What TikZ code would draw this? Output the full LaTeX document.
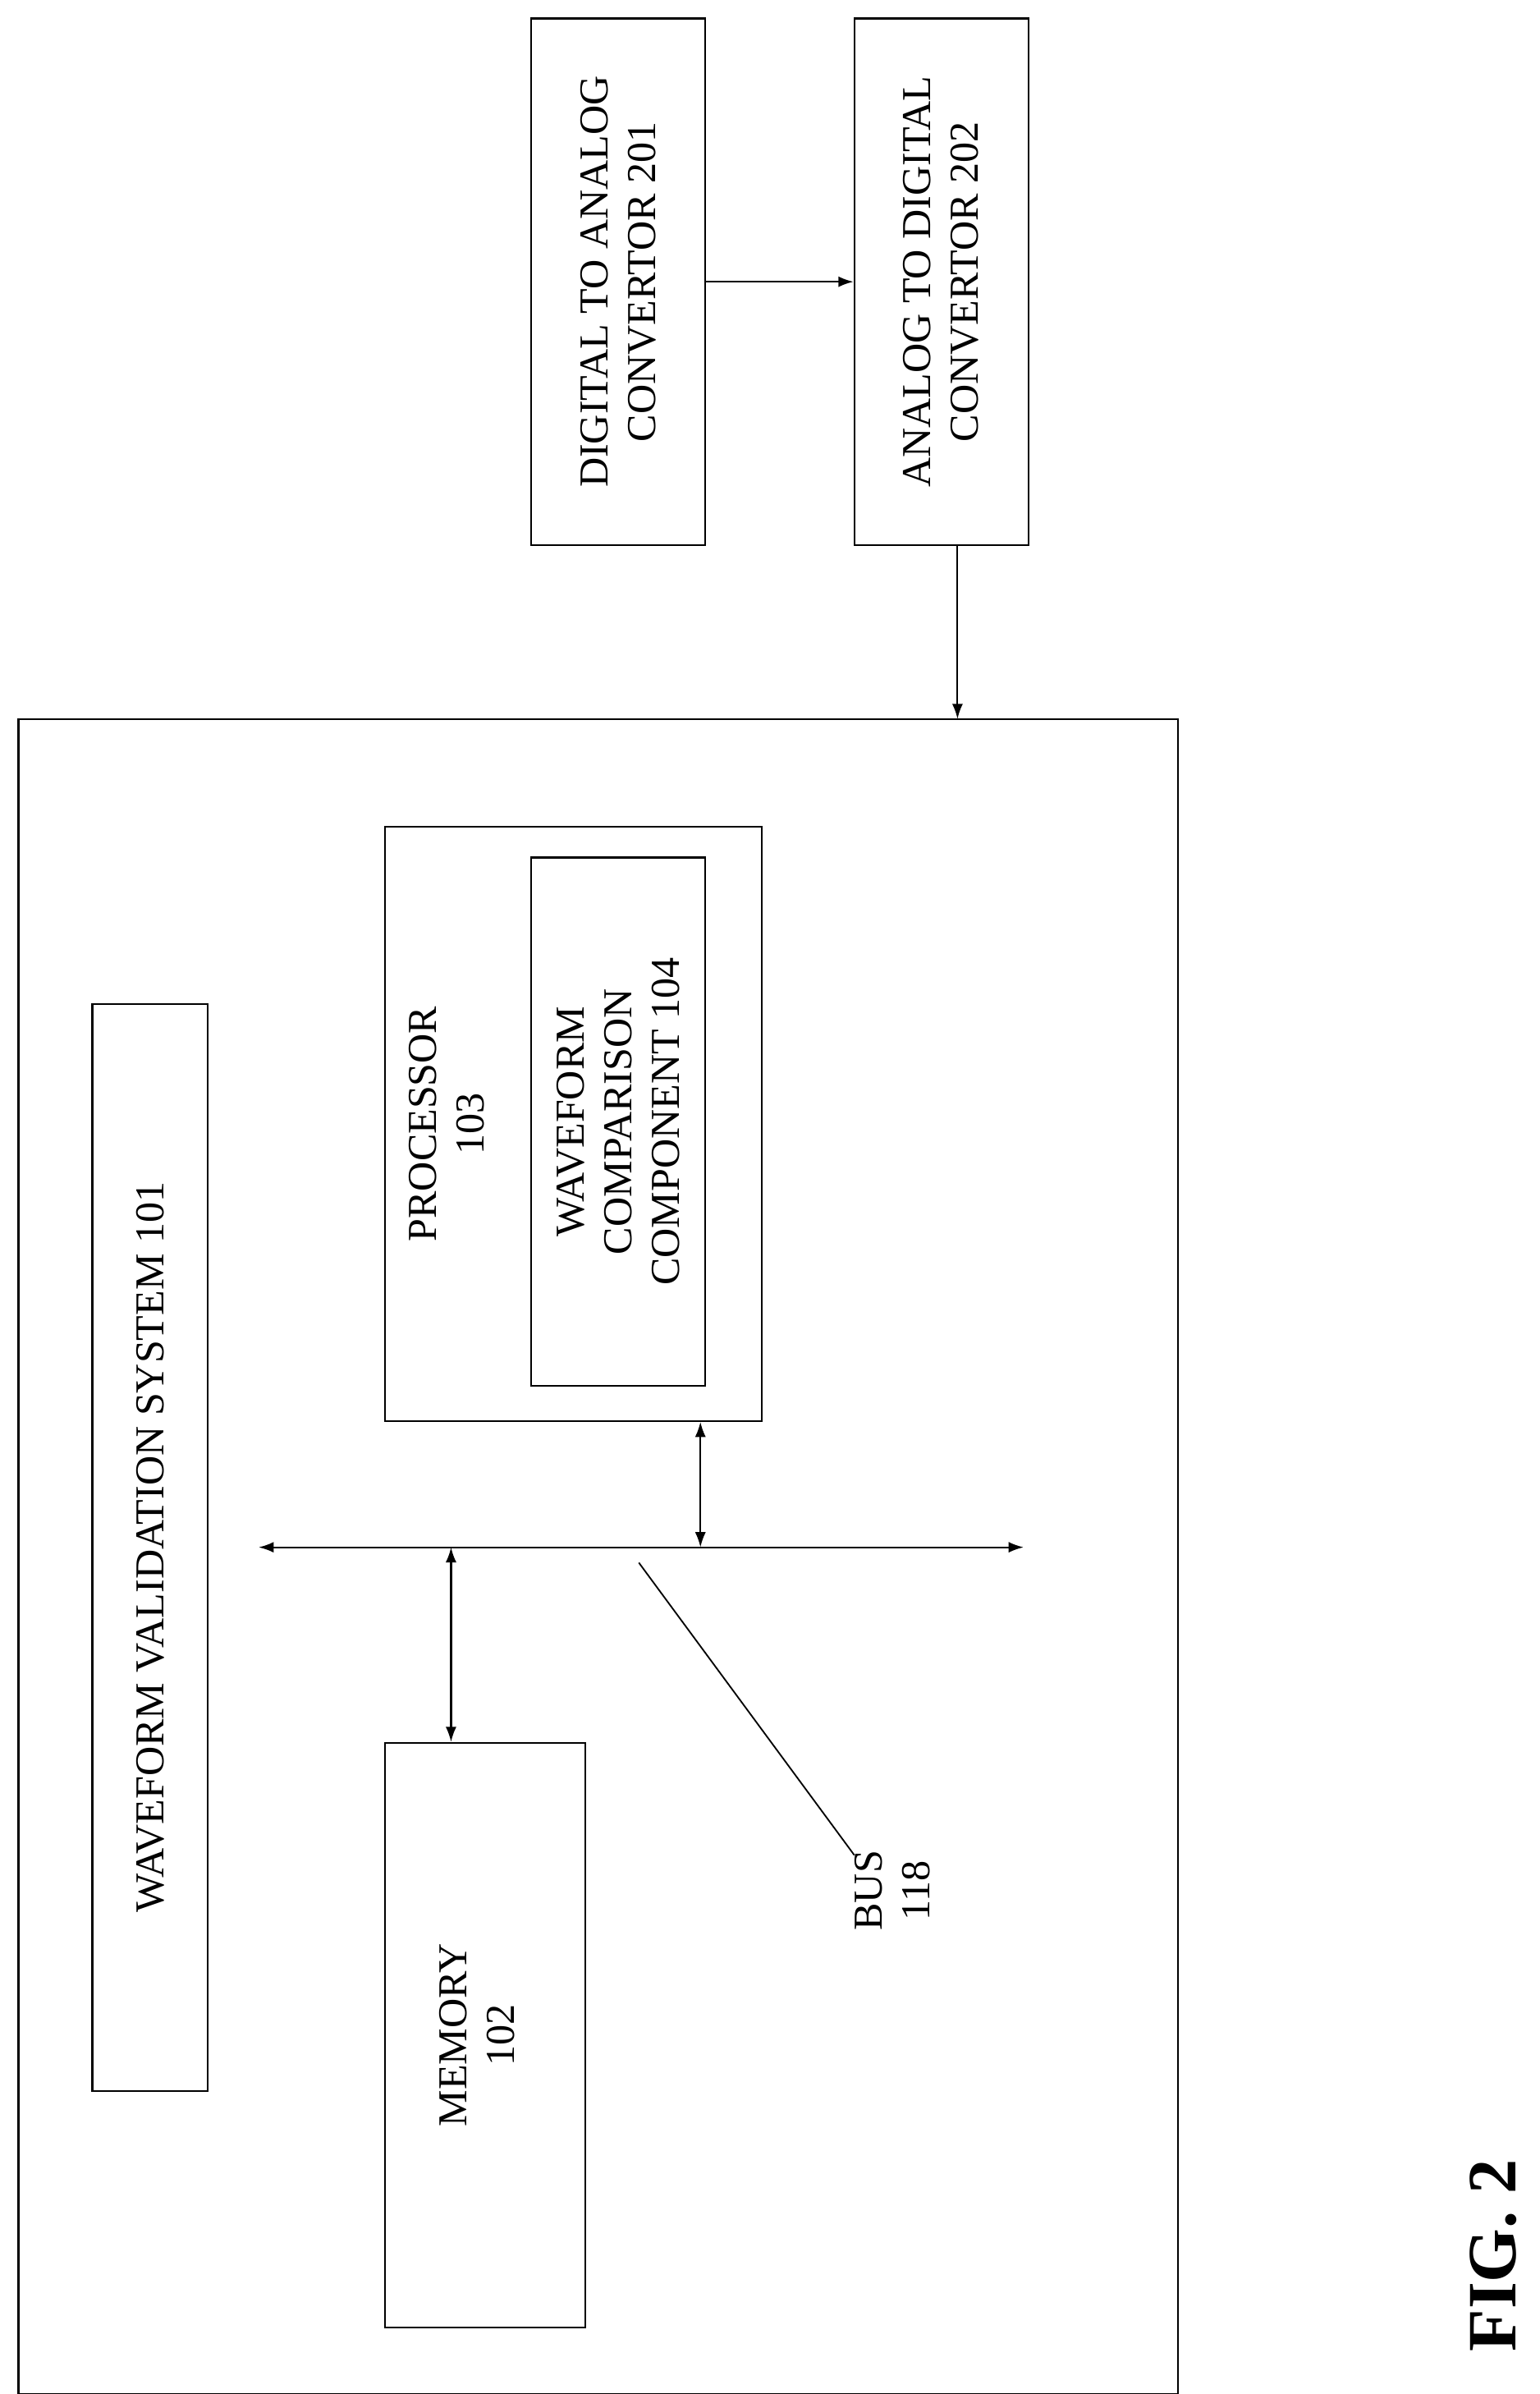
\documentclass[tikz,border=0pt]{standalone}
\usepackage{fontspec}
\setmainfont{Liberation Serif}
\usetikzlibrary{arrows.meta}
\begin{document}
\begin{tikzpicture}[x=0.05cm,y=-0.05cm,
 box/.style={draw,line width=1.6pt},
 lbl/.style={rotate=90,align=center,font=\fontsize{38}{44}\selectfont},
 arr/.style={line width=1.6pt,-{Latex[length=14pt,width=10pt]}},
 darr/.style={line width=1.6pt,{Latex[length=14pt,width=10pt]}-{Latex[length=14pt,width=10pt]}}]
\useasboundingbox (0,0) rectangle (1000,1555);
\node[box,minimum width=113*0.05cm,minimum height=342*0.05cm] (dac) at (401.5,183) {};
\node[lbl] at (dac) {DIGITAL TO ANALOG\\CONVERTOR 201};
\node[box,minimum width=113*0.05cm,minimum height=342*0.05cm] (adc) at (611.5,183) {};
\node[lbl] at (adc) {ANALOG TO DIGITAL\\CONVERTOR 202};
\draw[box] (12,467) rectangle (765,1555);
\coordinate (bigtop) at (622,467);
\draw[arr] (dac.east) -- (adc.west);
\draw[arr] (adc.south -| bigtop) -- (bigtop);
\node[box,minimum width=75*0.05cm,minimum height=706*0.05cm] (wvs) at (97.5,1005) {};
\node[lbl] at (wvs) {WAVEFORM VALIDATION SYSTEM 101};
\node[box,minimum width=245*0.05cm,minimum height=386*0.05cm] (proc) at (372.5,730) {};
\node[lbl] at (290,730) {PROCESSOR\\103};
\node[box,minimum width=113*0.05cm,minimum height=343*0.05cm] (wcc) at (401.5,728.5) {};
\node[lbl] at (wcc) {WAVEFORM\\COMPARISON\\COMPONENT 104};
\node[box,minimum width=130*0.05cm,minimum height=380*0.05cm] (mem) at (315,1322) {};
\node[lbl] at (310,1322) {MEMORY\\102};
\coordinate (bl) at (168,1005);
\coordinate (br) at (665,1005);
\draw[darr] (bl) -- (br);
\coordinate (bp) at (455,1005);
\coordinate (bm) at (293,1005);
\draw[darr] (proc.south -| bp) -- (bp);
\draw[darr] (bm) -- (mem.north -| bm);
\coordinate (l1) at (415,1015);
\node[lbl] (bus) at (580,1228) {BUS\\118};
\draw[line width=1.4pt] (l1) -- (555,1205);
\node[rotate=90,font=\bfseries\fontsize{64}{70}\selectfont] (fig) at (970,1465) {FIG. 2};
\end{tikzpicture}
\end{document}
